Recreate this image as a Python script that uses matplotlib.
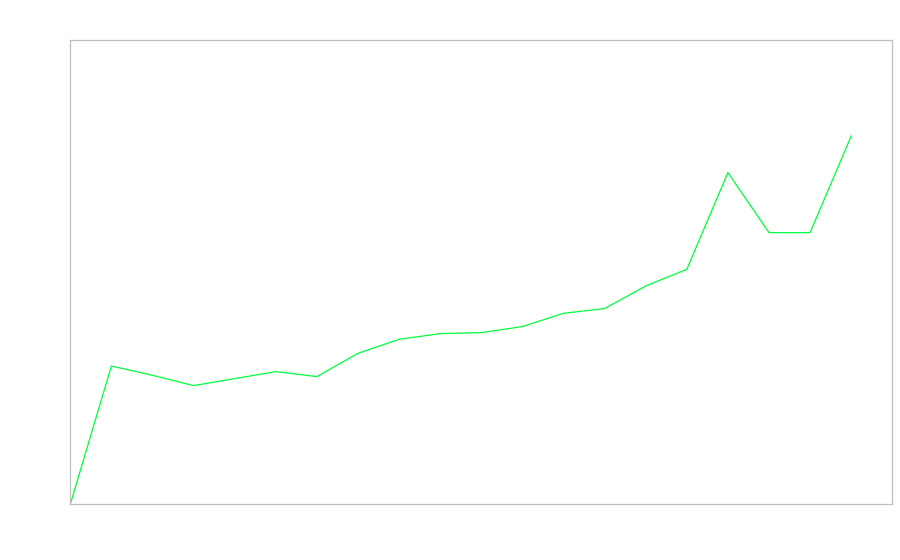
import matplotlib
matplotlib.use("Agg")
import matplotlib.pyplot as plt

x_index = list(range(20))
values = [0, 138.3, 129, 118.7, 125.7, 132.7, 127.7, 151, 165, 170.7,
          171.7, 177.7, 191, 195.7, 218.3, 235, 331.7, 271.7, 271.7, 368.3]

fig = plt.figure(figsize=(9, 5.6), dpi=100)
ax = fig.add_axes([70.3 / 900, (560 - 504.3) / 560, 822 / 900, 464 / 560])
ax.plot(x_index, values, color="#00ff3c", linewidth=0.9)
ax.set_xlim(0, 20)
ax.set_ylim(0, 464)
ax.set_xticks([])
ax.set_yticks([])
for s in ax.spines.values():
    s.set_color("#bfbfbf")
    s.set_linewidth(0.9)
fig.savefig("out.png", dpi=100, facecolor="white")
